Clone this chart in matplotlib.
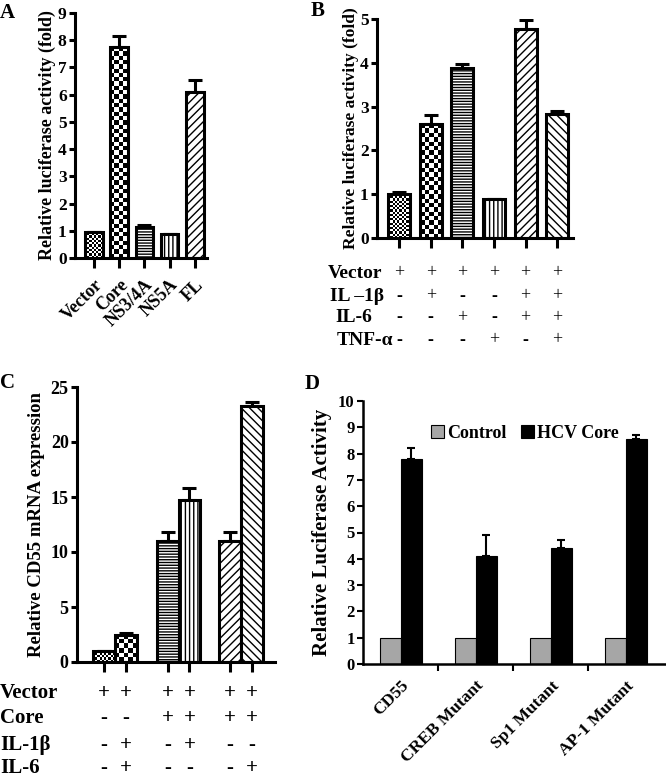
import matplotlib
matplotlib.use("Agg")
import matplotlib.pyplot as plt
import numpy as np

plt.rcParams["font.family"] = ["Liberation Serif", "DejaVu Serif"]
plt.rcParams["font.weight"] = "bold"
plt.rcParams["hatch.linewidth"] = 1.0

# Panel A
a_labels = ["Vector", "Core", "NS3/4A", "NS5A", "FL"]
a_vals = [0.97, 7.75, 1.15, 0.87, 6.1]
a_err = [0.0, 0.4, 0.07, 0.0, 0.45]

# Panel B
b_vals = [1.0, 2.6, 3.87, 0.9, 4.77, 2.83]
b_err = [0.05, 0.2, 0.1, 0.0, 0.2, 0.07]
b_rows = ["Vector", "IL \u20131\u03b2", "IL-6", "TNF-\u03b1"]
b_signs = [
    ["+", "+", "+", "+", "+", "+"],
    ["-", "+", "-", "-", "+", "+"],
    ["-", "-", "+", "-", "+", "+"],
    ["-", "-", "-", "+", "-", "+"],
]

# Panel C
c_pos = [0, 1, 2.9, 3.9, 5.75, 6.75]
c_vals = [1.0, 2.5, 11.0, 14.7, 11.0, 23.3]
c_err = [0.0, 0.12, 0.8, 1.1, 0.8, 0.3]
c_rows = ["Vector", "Core", "IL-1\u03b2", "IL-6"]
c_signs = [
    ["+", "+", "+", "+", "+", "+"],
    ["-", "-", "+", "+", "+", "+"],
    ["-", "+", "-", "+", "-", "-"],
    ["-", "+", "-", "-", "-", "+"],
]

# Panel D
d_labels = ["CD55", "CREB Mutant", "Sp1 Mutant", "AP-1 Mutant"]
d_control = [1.0, 1.0, 1.0, 1.0]
d_core = [7.8, 4.1, 4.4, 8.55]
d_core_err = [0.4, 0.8, 0.3, 0.15]

fig = plt.figure(figsize=(6.66, 7.82), dpi=100)
W, H = 666, 782


def make_ax(l, r, b, t, tick_size=12.5):
    ax = fig.add_axes([l / W, 1 - b / H, (r - l) / W, (b - t) / H])
    for s in ["top", "right"]:
        ax.spines[s].set_visible(False)
    for s in ["left", "bottom"]:
        ax.spines[s].set_linewidth(2.2)
    ax.tick_params(width=2.2, length=4, labelsize=tick_size, pad=2)
    return ax


def bold_y(ax):
    for lab in ax.get_yticklabels():
        lab.set_fontweight("bold")


def checker(ax, bar, cell_px):
    x0, y0 = bar.get_x(), bar.get_y()
    x1, y1 = x0 + bar.get_width(), y0 + bar.get_height()
    p0 = ax.transData.transform((x0, y0))
    p1 = ax.transData.transform((x1, y1))
    nx = max(1, int(round(abs(p1[0] - p0[0]) / cell_px)))
    ny = max(1, int(round(abs(p1[1] - p0[1]) / cell_px)))
    board = np.indices((ny, nx)).sum(axis=0) % 2
    im = ax.imshow(board, cmap="gray", extent=(x0, x1, y0, y1), aspect="auto",
                   interpolation="nearest", zorder=1.5)
    im.set_clip_path(bar)
    bar.set_facecolor("none")


def style_bars(ax, bars, patterns):
    for bar, p in zip(bars, patterns):
        bar.set_facecolor("white")
        bar.set_edgecolor("black")
        bar.set_linewidth(2.2)
        bar.set_zorder(2)
        if p == "fine":
            checker(ax, bar, 2.2)
        elif p == "coarse":
            checker(ax, bar, 4.3)
        elif p:
            bar.set_hatch(p)


# ---- A
axA = make_ax(75, 207, 258, 13)
xa = np.arange(len(a_vals))
axA.set_xlim(-0.75, 4.48)
axA.set_ylim(0, 9)
barsA = axA.bar(xa, a_vals, width=0.7)
style_bars(axA, barsA, ["fine", "coarse", "------", "||||", "////"])
axA.errorbar(xa, a_vals, yerr=[np.zeros(5), a_err], fmt="none", ecolor="black",
             elinewidth=2.2, capsize=5, capthick=2.2, zorder=1)
axA.set_yticks(range(10))
bold_y(axA)
axA.set_xticks(xa)
axA.set_xticklabels(a_labels, rotation=45, ha="right", rotation_mode="anchor",
                    fontsize=13, fontweight="bold")
axA.tick_params(axis="x", length=7, pad=6)
axA.set_ylabel("Relative luciferase activity (fold)", fontsize=13, fontweight="bold", labelpad=1)

# ---- B
axB = make_ax(377, 573, 238, 19)
xb = np.arange(len(b_vals))
axB.set_xlim(-0.7, 5.5)
axB.set_ylim(0, 5)
barsB = axB.bar(xb, b_vals, width=0.7)
style_bars(axB, barsB, ["fine", "coarse", "------", "||||", "////", "\\\\\\\\"])
axB.errorbar(xb, b_vals, yerr=[np.zeros(6), b_err], fmt="none", ecolor="black",
             elinewidth=2.2, capsize=5, capthick=2.2, zorder=1)
axB.set_yticks(range(6))
bold_y(axB)
axB.set_xticks(xb)
axB.set_xticklabels([])
axB.tick_params(axis="x", length=7)
axB.set_ylabel("Relative luciferase activity (fold)", fontsize=12.5, fontweight="bold", labelpad=1)
b_rows_y = [-0.16, -0.265, -0.365, -0.466]
b_label_x = [328, 330, 335, 337]
for name, lx, ry, signs in zip(b_rows, b_label_x, b_rows_y, b_signs):
    fig.text(lx / W, 1 - (238 - ry * 219) / H, name, fontsize=14, fontweight="bold",
             ha="left", va="center")
    for xv, s in zip(xb, signs):
        axB.text(xv, ry, s, transform=axB.get_xaxis_transform(), ha="center", va="center",
                 fontsize=13, fontweight="normal" if s == "+" else "bold", clip_on=False)

# ---- C
axC = make_ax(77, 275, 662, 387, tick_size=13)
axC.set_xlim(-1.23, 7.8)
axC.set_ylim(0, 25)
barsC = axC.bar(c_pos, c_vals, width=1.0)
style_bars(axC, barsC, ["fine", "coarse", "------", "||||", "////", "\\\\\\\\"])
axC.errorbar(c_pos, c_vals, yerr=[np.zeros(6), c_err], fmt="none", ecolor="black",
             elinewidth=2.2, capsize=5, capthick=2.2, zorder=1)
axC.set_yticks(range(0, 26, 5))
bold_y(axC)
axC.set_xticks(c_pos)
axC.set_xticklabels([])
axC.tick_params(axis="x", length=7)
axC.set_ylabel("Relative CD55 mRNA expression", fontsize=13.5, fontweight="bold", labelpad=4)
c_rows_y = [-0.113, -0.204, -0.302, -0.385]
for name, ry, signs in zip(c_rows, c_rows_y, c_signs):
    fig.text(0 / W, 1 - (662 - ry * 275) / H, name, fontsize=15, fontweight="bold",
             ha="left", va="center")
    for xv, s in zip(c_pos, signs):
        axC.text(xv, ry, s, transform=axC.get_xaxis_transform(), ha="center", va="center",
                 fontsize=15, fontweight="bold", clip_on=False)

# ---- D
axD = make_ax(363, 665, 664, 401, tick_size=12)
for s in ["left", "bottom"]:
    axD.spines[s].set_linewidth(1.8)
xd = np.arange(len(d_labels))
axD.set_xlim(-0.5, 3.52)
axD.set_ylim(0, 10)
bw = 0.28
axD.bar(xd - bw / 2, d_control, width=bw, color="#a6a6a6", edgecolor="black",
        linewidth=0.8, label="Control", zorder=2)
axD.bar(xd + bw / 2, d_core, width=bw, color="black", edgecolor="black",
        linewidth=0.8, label="HCV Core", zorder=2)
axD.errorbar(xd + bw / 2, d_core, yerr=[np.zeros(4), d_core_err], fmt="none",
             ecolor="black", elinewidth=1.5, capsize=3, capthick=1.5, zorder=1)
axD.set_yticks(range(11))
bold_y(axD)
axD.set_xticks(xd[:-1] + 0.5)
axD.set_xticklabels([])
axD.set_xticks(xd, minor=True)
axD.set_xticklabels(d_labels, minor=True, rotation=45, ha="right",
                    rotation_mode="anchor", fontsize=12.5, fontweight="bold")
axD.tick_params(axis="x", which="major", length=5, width=1.5, direction="out")
axD.tick_params(axis="x", which="minor", length=0, pad=10)
axD.tick_params(axis="y", width=1.5)
axD.set_ylabel("Relative Luciferase Activity", fontsize=15, fontweight="bold", labelpad=4)
axD.legend(loc="center left", bbox_to_anchor=(0.225, 0.878), ncol=2, frameon=False,
           handlelength=0.7, handleheight=0.7, handletextpad=0.2, columnspacing=0.8,
           borderaxespad=0, borderpad=0,
           prop={"size": 13, "weight": "bold"})

# panel letters
for letter, px, py in [("A", 0, 13), ("B", 311, 11), ("C", 0, 383), ("D", 305, 384)]:
    fig.text(px / W, 1 - py / H, letter, fontsize=15, fontweight="bold", ha="left", va="center")

fig.savefig("out.png", dpi=100)
